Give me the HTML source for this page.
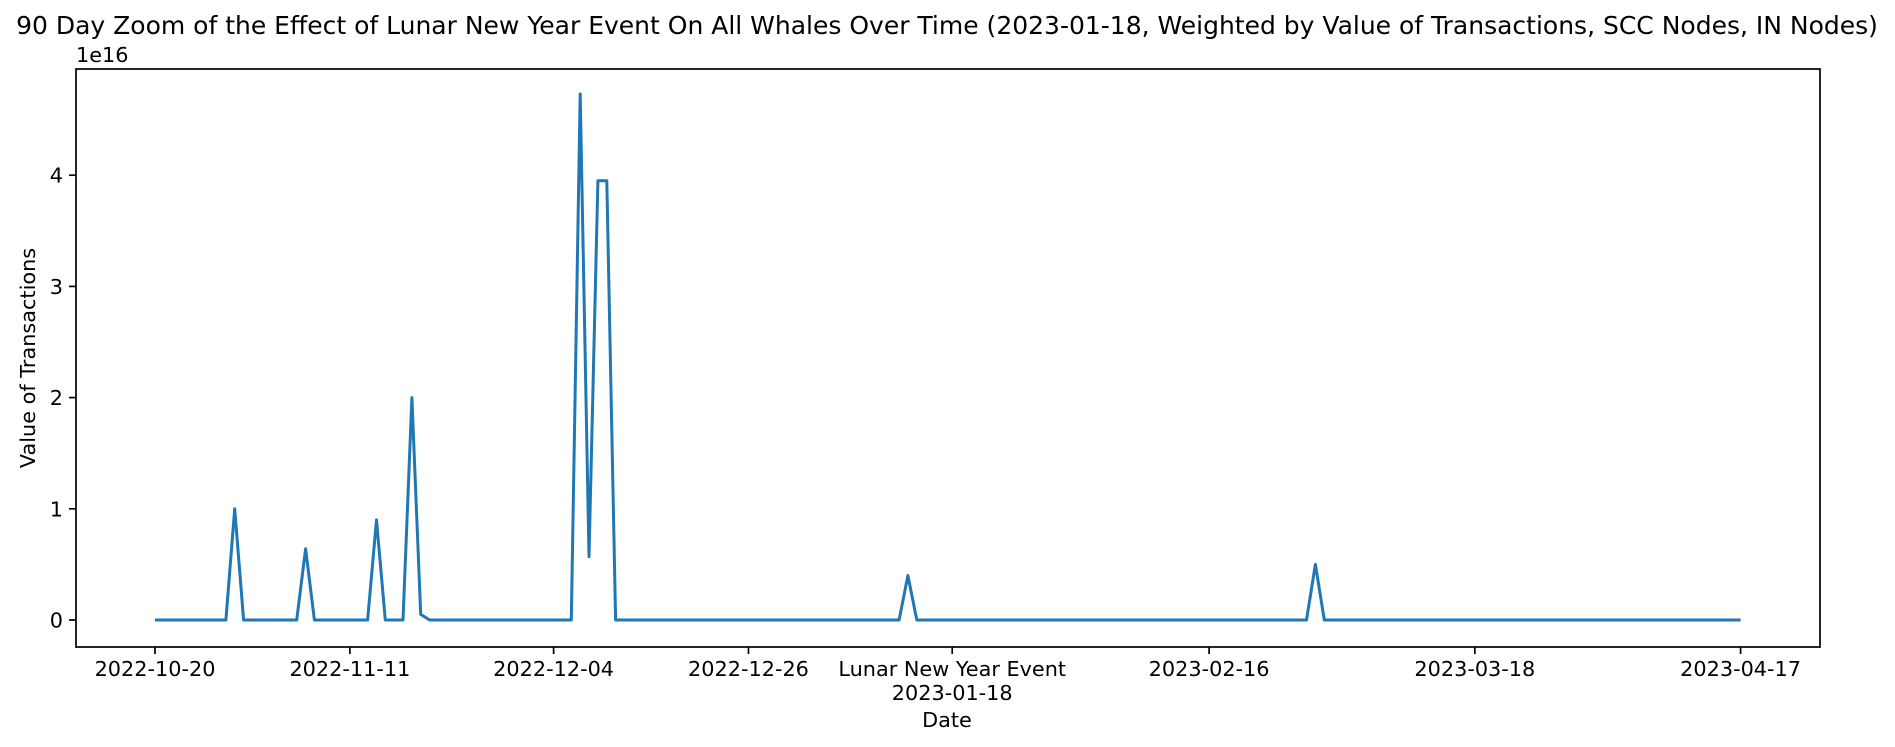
<!DOCTYPE html>
<html><head><meta charset="utf-8">
<style>
html,body{margin:0;padding:0;background:#fff;}
svg{display:block;font-family:"DejaVu Sans","Liberation Sans",sans-serif;}
</style></head>
<body>
<svg id="chart" width="1895" height="747" viewBox="0 0 1895 747" xmlns="http://www.w3.org/2000/svg">
<rect width="1895" height="747" fill="#fff"/>
<text x="947" y="34" font-size="25" text-anchor="middle" fill="#000">90 Day Zoom of the Effect of Lunar New Year Event On All Whales Over Time (2023-01-18, Weighted by Value of Transactions, SCC Nodes, IN Nodes)</text>
<text x="76" y="62" font-size="20.8" fill="#000">1e16</text>
<text transform="translate(35,358) rotate(-90)" font-size="20.8" text-anchor="middle" fill="#000">Value of Transactions</text>
<text x="947" y="727" font-size="20.8" text-anchor="middle" fill="#000">Date</text>
<g id="marks"></g>
<g id="axes"></g>
<rect x="76" y="69" width="1744" height="578" fill="none" stroke="#000" stroke-width="1.7"/>
</svg>
<script>
const totalDays = 179;
const spikeDays = [9, 17, 25, 29, 30, 48, 49, 50, 51, 85, 131];
const spikeValues = [1.0, 0.64, 0.9, 2.0, 0.05, 4.73, 0.57, 3.95, 3.95, 0.4, 0.5];
const yTicks = [0, 1, 2, 3, 4];
const xTickDays = [0, 22, 45, 67, 90, 119, 149, 179];
const xTickLabels = ["2022-10-20", "2022-11-11", "2022-12-04", "2022-12-26", "Lunar New Year Event|2023-01-18", "2023-02-16", "2023-03-18", "2023-04-17"];

const NS = "http://www.w3.org/2000/svg";
const x = d => 155 + d * 8.858;
const y = v => 620 - v * 111.2;

const marks = document.getElementById('marks');
const axes = document.getElementById('axes');

let pts = [];
for (let d = 0; d <= totalDays; d++) {
  const i = spikeDays.indexOf(d);
  const v = i >= 0 ? spikeValues[i] : 0;
  pts.push(x(d).toFixed(1) + "," + y(v).toFixed(1));
}
const line = document.createElementNS(NS, 'polyline');


line.setAttribute('points', pts.join(' '));
line.setAttribute('fill', 'none');
line.setAttribute('stroke', '#1f77b4');
line.setAttribute('stroke-width', '3');
line.setAttribute('stroke-linejoin', 'round');
marks.appendChild(line);

yTicks.forEach(t => {
  const yy = y(t);
  const tk = document.createElementNS(NS, 'line');
  
  
  tk.setAttribute('x1', 69); tk.setAttribute('x2', 76);
  tk.setAttribute('y1', yy); tk.setAttribute('y2', yy);
  tk.setAttribute('stroke', '#000'); tk.setAttribute('stroke-width', '1.7');
  axes.appendChild(tk);
  const lb = document.createElementNS(NS, 'text');
  
  
  lb.setAttribute('x', 63); lb.setAttribute('y', yy + 7.5);
  lb.setAttribute('font-size', '20.8'); lb.setAttribute('text-anchor', 'end');
  lb.textContent = t;
  axes.appendChild(lb);
});

xTickDays.forEach((d, i) => {
  const xx = x(d);
  const tk = document.createElementNS(NS, 'line');
  
  
  tk.setAttribute('x1', xx); tk.setAttribute('x2', xx);
  tk.setAttribute('y1', 647); tk.setAttribute('y2', 654);
  tk.setAttribute('stroke', '#000'); tk.setAttribute('stroke-width', '1.7');
  axes.appendChild(tk);
  xTickLabels[i].split('|').forEach((s, j) => {
    const lb = document.createElementNS(NS, 'text');
    
    
    lb.setAttribute('x', xx); lb.setAttribute('y', 676 + j * 24);
    lb.setAttribute('font-size', '20.8'); lb.setAttribute('text-anchor', 'middle');
    lb.textContent = s;
    axes.appendChild(lb);
  });
});
</script>
</body></html>
